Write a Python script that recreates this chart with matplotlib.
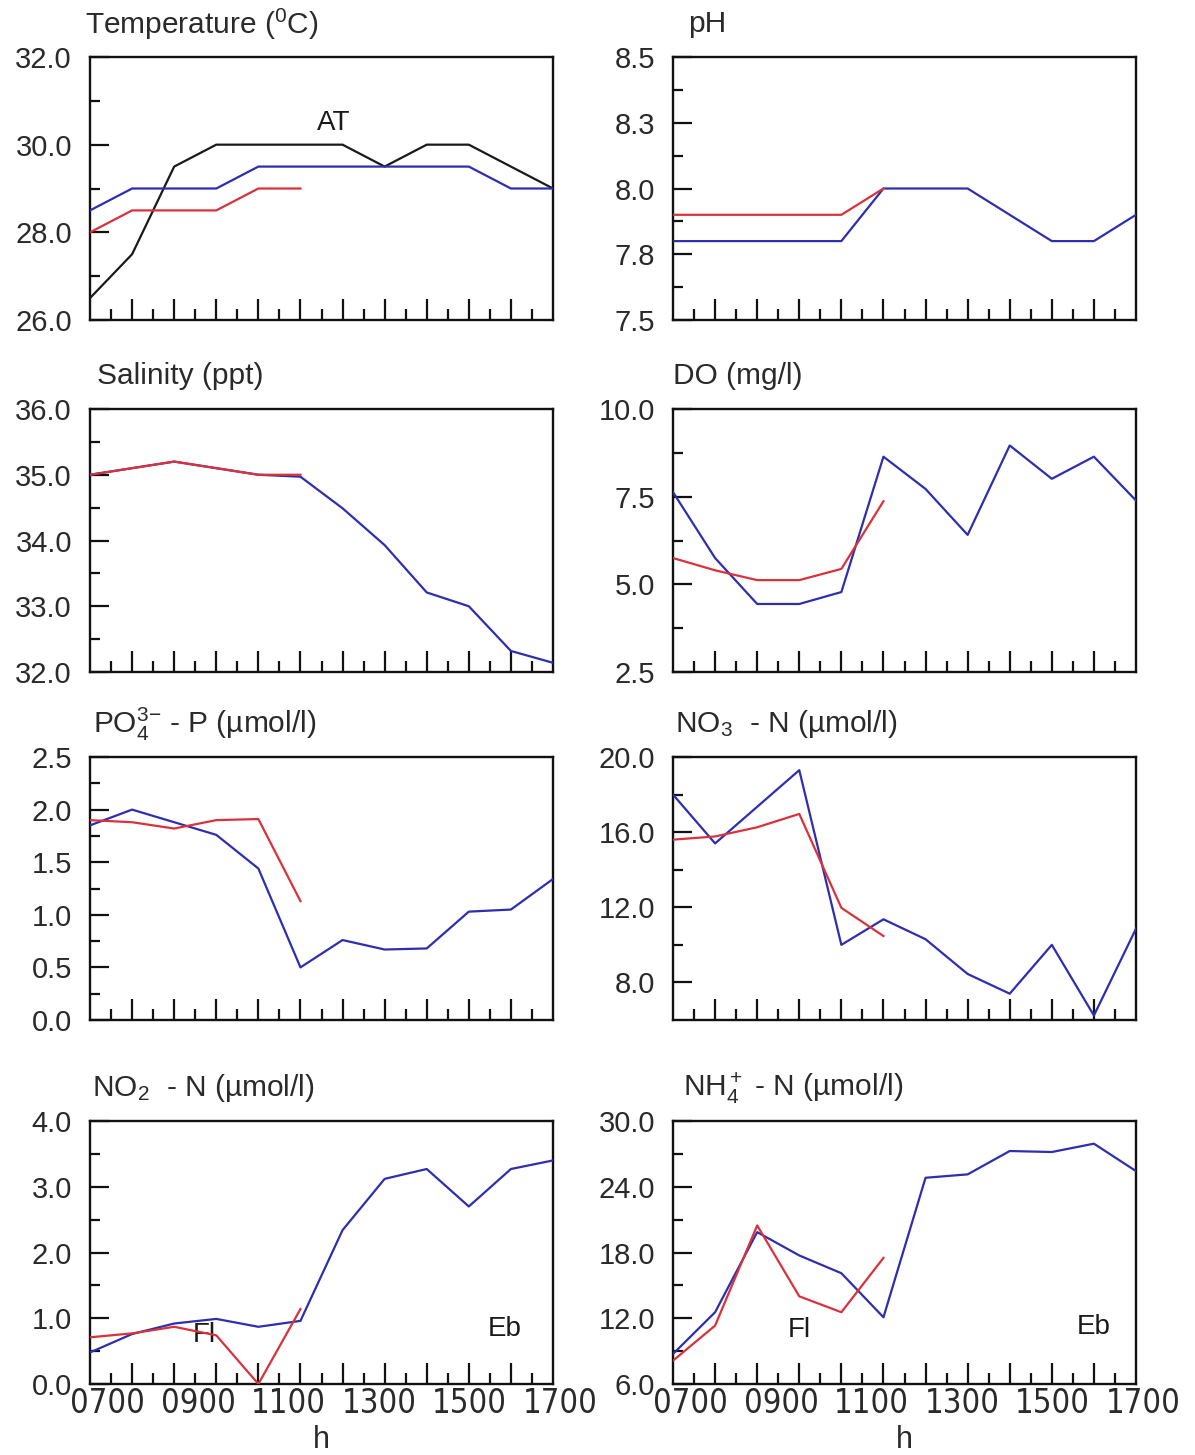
import numpy as np
import matplotlib
matplotlib.use('Agg')
import matplotlib.pyplot as plt
from matplotlib import font_manager
from matplotlib.font_manager import FontProperties
from matplotlib.ticker import FixedLocator, FixedFormatter, NullFormatter

plt.rcParams['font.family'] = ['Liberation Sans', 'DejaVu Sans']
plt.rcParams['mathtext.fontset'] = 'custom'
plt.rcParams['mathtext.rm'] = 'Liberation Sans'
plt.rcParams['mathtext.it'] = 'Liberation Sans:italic'
plt.rcParams['mathtext.bf'] = 'Liberation Sans:bold'

# ---------------------------------------------------------------
# data: 12 samples through the day, red series only during flood
# ---------------------------------------------------------------
samples = np.arange(12)
hour_labels = ["0700", "0900", "1100", "1300", "1500", "1700"]

temp_blue = [28.5, 29.0, 29.0, 29.0, 29.5, 29.5, 29.5, 29.5, 29.5, 29.5, 29.0, 29.0]
temp_red = [28.0, 28.5, 28.5, 28.5, 29.0, 29.0]
temp_air = [26.5, 27.5, 29.5, 30.0, 30.0, 30.0, 30.0, 29.5, 30.0, 30.0, 29.5, 29.0]

ph_blue = [7.8, 7.8, 7.8, 7.8, 7.8, 8.0, 8.0, 8.0, 7.9, 7.8, 7.8, 7.9]
ph_red = [7.9, 7.9, 7.9, 7.9, 7.9, 8.0]

sal_blue = [35.0, 35.1, 35.2, 35.1, 35.0, 34.97, 34.49, 33.93, 33.21, 33.0, 32.32, 32.14]
sal_red = [35.0, 35.1, 35.2, 35.1, 35.0, 35.0]

do_blue = [7.63, 5.75, 4.44, 4.44, 4.78, 8.64, 7.72, 6.41, 8.96, 8.01, 8.64, 7.39]
do_red = [5.75, 5.40, 5.12, 5.12, 5.44, 7.37]

po4_blue = [1.85, 2.0, 1.88, 1.76, 1.44, 0.50, 0.76, 0.67, 0.68, 1.03, 1.05, 1.34]
po4_red = [1.90, 1.88, 1.82, 1.90, 1.91, 1.13]

no3_blue = [18.0, 15.4, 17.35, 19.3, 10.0, 11.36, 10.3, 8.45, 7.4, 10.0, 6.24, 10.86]
no3_red = [15.6, 15.77, 16.26, 16.97, 11.97, 10.47]

no2_blue = [0.48, 0.76, 0.92, 0.99, 0.87, 0.96, 2.34, 3.12, 3.27, 2.70, 3.27, 3.40]
no2_red = [0.71, 0.77, 0.87, 0.74, 0.0, 1.14]

nh4_blue = [8.74, 12.55, 19.86, 17.73, 16.11, 12.09, 24.82, 25.13, 27.26, 27.17, 27.93, 25.43]
nh4_red = [8.13, 11.33, 20.47, 14.0, 12.55, 17.51]

BLUE = "#2e2eae"
RED = "#d8323c"
INK = "#2a2a2a"


# narrow face for the hour labels, if one is installed
def narrow_font():
    for fam in ["Liberation Sans Narrow", "DejaVu Sans", "Noto Sans"]:
        fp = FontProperties(family=fam, stretch='condensed')
        try:
            path = font_manager.findfont(fp, fallback_to_default=False)
        except ValueError:
            continue
        if "Narrow" in path or "Condensed" in path:
            return fp, 23.5
    return FontProperties(family="Liberation Sans"), 21


HOUR_FONT, HOUR_SIZE = narrow_font()

W, H = 1195, 1455
fig = plt.figure(figsize=(W / 100, H / 100), dpi=100)
fig.patch.set_facecolor("white")

AX_W, AX_H = 463, 263
COL_X = [90, 673]
ROW_TOP = [57, 409, 757, 1121]


def make_axes(row, col):
    x0 = COL_X[col] / W
    y0 = 1 - (ROW_TOP[row] + AX_H) / H
    return fig.add_axes([x0, y0, AX_W / W, AX_H / H])


def panel(ax, blue, red, ylim, major, major_lbls, minor, title, title_dx, bottom=False):
    ax.plot(samples, blue, color=BLUE, lw=1.6, zorder=3)
    ax.plot(samples[:len(red)], red, color=RED, lw=1.6, zorder=4)
    ax.set_xlim(0, 11)
    ax.set_ylim(*ylim)

    for s in ax.spines.values():
        s.set_linewidth(1.7)
        s.set_color("#111111")

    ax.yaxis.set_major_locator(FixedLocator(major))
    ax.yaxis.set_major_formatter(FixedFormatter(major_lbls))
    ax.yaxis.set_minor_locator(FixedLocator(minor))
    ax.xaxis.set_major_locator(FixedLocator(np.arange(1, 11)))
    ax.xaxis.set_minor_locator(FixedLocator(np.arange(0.5, 11, 1.0)))
    ax.xaxis.set_major_formatter(NullFormatter())

    ax.tick_params(axis='y', which='major', direction='in', length=14, width=1.6,
                   labelsize=21, pad=13, colors="#111111", labelcolor=INK)
    ax.tick_params(axis='y', which='minor', direction='in', length=7, width=1.6,
                   colors="#111111")
    ax.tick_params(axis='x', which='major', direction='in', length=15, width=1.6,
                   colors="#111111")
    ax.tick_params(axis='x', which='minor', direction='in', length=8, width=1.6,
                   colors="#111111")

    ax.text(title_dx / AX_W, 1 + 33 / AX_H, title, transform=ax.transAxes,
            ha='left', va='center', fontsize=21.5, color=INK)

    if bottom:
        for x, lbl in zip(np.linspace(0.42, 11.17, len(hour_labels)), hour_labels):
            ax.text(x, -3 / AX_H, lbl, transform=ax.get_xaxis_transform(),
                    ha='center', va='top', fontproperties=HOUR_FONT,
                    fontsize=HOUR_SIZE, color=INK)
        ax.text(0.5, -56 / AX_H, "h", transform=ax.transAxes, ha='center',
                va='center', fontsize=22, color=INK)


# temperature
ax = make_axes(0, 0)
panel(ax, temp_blue, temp_red, (26, 32), [26, 28, 30, 32],
      ["26.0", "28.0", "30.0", "32.0"], [27, 29, 31],
      r"Temperature ($^{0}$C)", -5)
ax.plot(samples, temp_air, color="#1a1a1a", lw=1.6, zorder=2)
ax.text(5.8, 30.5, "AT", ha='center', va='center', fontsize=20, color="#1a1a1a")

# pH
ax = make_axes(0, 1)
panel(ax, ph_blue, ph_red, (7.5, 8.5), [7.5, 7.75, 8.0, 8.25, 8.5],
      ["7.5", "7.8", "8.0", "8.3", "8.5"], [7.625, 7.875, 8.125, 8.375],
      "pH", 15)

# salinity
ax = make_axes(1, 0)
panel(ax, sal_blue, sal_red, (32, 36), [32, 33, 34, 35, 36],
      ["32.0", "33.0", "34.0", "35.0", "36.0"], [32.5, 33.5, 34.5, 35.5],
      "Salinity (ppt)", 7)

# dissolved oxygen
ax = make_axes(1, 1)
panel(ax, do_blue, do_red, (2.5, 10), [2.5, 5.0, 7.5, 10.0],
      ["2.5", "5.0", "7.5", "10.0"], [3.75, 6.25, 8.75],
      "DO (mg/l)", 0)

# phosphate
ax = make_axes(2, 0)
panel(ax, po4_blue, po4_red, (0, 2.5), [0, 0.5, 1.0, 1.5, 2.0, 2.5],
      ["0.0", "0.5", "1.0", "1.5", "2.0", "2.5"], [0.25, 0.75, 1.25, 1.75, 2.25],
      r"PO$_4^{3\mathrm{-}}$ - P (µmol/l)", 3)

# nitrate
ax = make_axes(2, 1)
panel(ax, no3_blue, no3_red, (6, 20), [8, 12, 16, 20],
      ["8.0", "12.0", "16.0", "20.0"], [10, 14, 18],
      r"NO$_3$  - N (µmol/l)", 2)

# nitrite
ax = make_axes(3, 0)
panel(ax, no2_blue, no2_red, (0, 4), [0, 1, 2, 3, 4],
      ["0.0", "1.0", "2.0", "3.0", "4.0"], [0.5, 1.5, 2.5, 3.5],
      r"NO$_2$  - N (µmol/l)", 2, bottom=True)
ax.text(2.71, 0.74, "Fl", ha='center', va='center', fontsize=20, color="#1a1a1a")
ax.text(9.86, 0.84, "Eb", ha='center', va='center', fontsize=20, color="#1a1a1a")

# ammonium
ax = make_axes(3, 1)
panel(ax, nh4_blue, nh4_red, (6, 30), [6, 12, 18, 24, 30],
      ["6.0", "12.0", "18.0", "24.0", "30.0"], [9, 15, 21, 27],
      r"NH$_4^+$ - N (µmol/l)", 10, bottom=True)
ax.text(3.0, 10.9, "Fl", ha='center', va='center', fontsize=20, color="#1a1a1a")
ax.text(9.99, 11.2, "Eb", ha='center', va='center', fontsize=20, color="#1a1a1a")

fig.savefig("out.png", dpi=100, facecolor="white")
